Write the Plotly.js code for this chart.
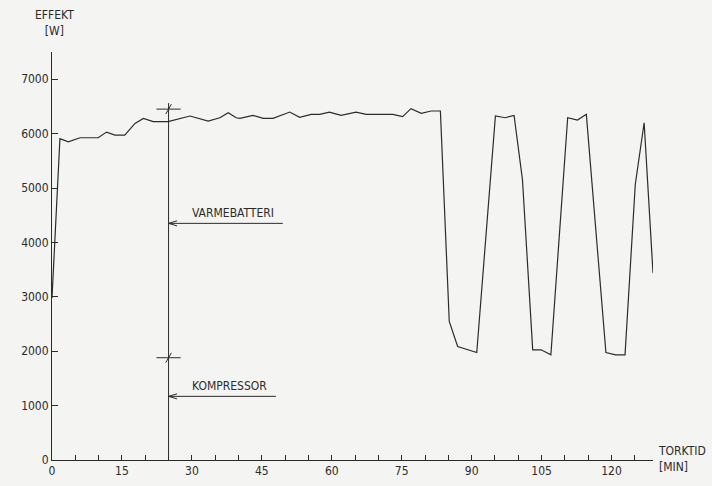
<!DOCTYPE html>
<html>
<head>
<meta charset="utf-8">
<script src="https://cdn.plot.ly/plotly-3.0.1.min.js"></script>
<style>
html,body{margin:0;padding:0;background:#f4f4f2;}
#chart{width:712px;height:486px;}
</style>
</head>
<body>
<div id="chart"></div>
<script>
// Data: drying time (min) vs power (W)
const timeMin = [0, 1.7, 3.5, 6, 9.9, 11.7, 13.5, 15.6, 17.8, 19.6, 21.7, 24.9, 29.6, 33.5, 36, 37.8, 39.5,
  40.3, 43.1, 45.3, 47.4, 51, 53.1, 55.6, 57.4, 59.5, 62, 65.2, 67.4, 73.1, 75.2, 77, 79.2, 81.3, 83.3,
  85.2, 87, 91.1, 95.1, 97.2, 99.1, 100.9, 103.1, 104.9, 107, 110.6, 112.7, 114.6, 118.8, 120.9, 122.9,
  125.1, 127, 128.9];
const powerW = [2980, 5906, 5850, 5924, 5924, 6028, 5972, 5972, 6188, 6280, 6219, 6219, 6323, 6231, 6292, 6384, 6292,
  6280, 6335, 6280, 6280, 6396, 6298, 6354, 6354, 6396, 6335, 6396, 6354, 6354, 6311, 6458, 6372, 6415, 6415,
  2547, 2087, 1976, 6323, 6292, 6335, 5157, 2026, 2026, 1934, 6292, 6249, 6354, 1976, 1934, 1934,
  5064, 6200, 3438];

const xTickVals = [0,5,10,15,20,25,30,35,40,45,50,55,60,65,70,75,80,85,90,95,100,105,110,115,120,125];
const xTickText = ['0','','','15','','','30','','','45','','','60','','','75','','','90','','','105','','','120',''];
const yTickVals = [0,1000,2000,3000,4000,5000,6000,7000];
const yTickText = ['0','1000','2000','3000','4000','5000','6000','7000'];

// Annotation markers
const markerTime = 25;
const markerTop = 6560;
const crossbarLevels = [6450, 1880];
const labelNames = ['VARMEBATTERI', 'KOMPRESSOR'];
const labelLevels = [4350, 1170];
const labelEnds = [49.5, 48];

const ink = '#2b2b2b';
const fnt = {family: 'DejaVu Sans Condensed, Liberation Sans Narrow, sans-serif', size: 12, color: ink};

const shapes = [];
shapes.push({type:'line', xref:'x', yref:'y', x0:markerTime, x1:markerTime, y0:0, y1:markerTop, line:{color:ink, width:1}});
crossbarLevels.forEach(v => {
  shapes.push({type:'line', xref:'x', yref:'y', x0:markerTime-2.6, x1:markerTime+2.6, y0:v, y1:v, line:{color:ink, width:1}});
  shapes.push({type:'line', xref:'x', yref:'y', x0:markerTime-0.6, x1:markerTime+0.6, y0:v-90, y1:v+90, line:{color:ink, width:1}});
});
labelLevels.forEach((v,i) => {
  shapes.push({type:'line', xref:'x', yref:'y', x0:markerTime, x1:labelEnds[i], y0:v, y1:v, line:{color:ink, width:1}});
});

const annotations = [];
labelLevels.forEach((v,i) => {
  annotations.push({x:(markerTime+labelEnds[i])/2 + 1.6, y:v, xref:'x', yref:'y', text:labelNames[i], showarrow:false,
    yanchor:'bottom', yshift:1, font:fnt});
  annotations.push({x:markerTime, y:v, xref:'x', yref:'y', ax:10, ay:-3, text:'', showarrow:true,
    arrowhead:0, arrowwidth:1, arrowcolor:ink, standoff:0});
  annotations.push({x:markerTime, y:v, xref:'x', yref:'y', ax:10, ay:3, text:'', showarrow:true,
    arrowhead:0, arrowwidth:1, arrowcolor:ink, standoff:0});
});
annotations.push({xref:'paper', yref:'paper', x:0, y:1, xshift:2, yshift:12, xanchor:'center', yanchor:'bottom',
  text:'EFFEKT<br>[W]', showarrow:false, align:'center', font:fnt});
annotations.push({xref:'paper', yref:'paper', x:1, y:0, xshift:3, yshift:-16, xanchor:'left', yanchor:'bottom',
  text:'TORKTID<br>[MIN]', showarrow:false, align:'left', font:fnt});

const trace = {x: timeMin, y: powerW, type:'scatter', mode:'lines', line:{color:ink, width:1.2}, hoverinfo:'skip'};

const layout = {
  width:712, height:486,
  paper_bgcolor:'#f4f4f2', plot_bgcolor:'rgba(0,0,0,0)',
  margin:{l:52, r:59, t:52, b:26},
  showlegend:false,
  font: fnt,
  xaxis:{range:[0,128.9], showgrid:false, zeroline:false, showline:true, linecolor:ink, linewidth:1,
    ticks:'inside', ticklen:5, tickcolor:ink, tickvals:xTickVals, ticktext:xTickText, tickfont:fnt},
  yaxis:{range:[0,7500], showgrid:false, zeroline:false, showline:true, linecolor:ink, linewidth:1,
    ticks:'inside', ticklen:6, tickcolor:ink, tickvals:yTickVals, ticktext:yTickText, tickfont:fnt},
  shapes: shapes,
  annotations: annotations
};

Plotly.newPlot('chart', [trace], layout, {staticPlot:true, displayModeBar:false});
</script>
</body>
</html>
